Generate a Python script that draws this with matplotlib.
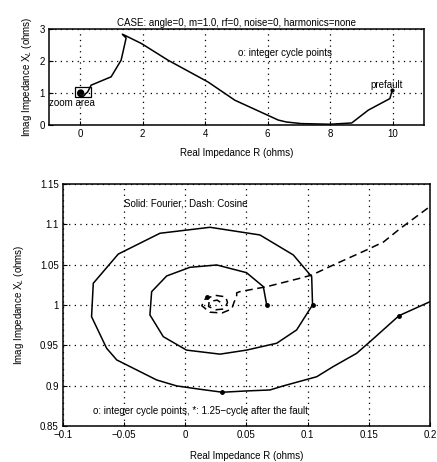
import matplotlib
matplotlib.use("Agg")
import matplotlib.pyplot as plt
from matplotlib.patches import Rectangle

plt.rcParams['font.family'] = ['Liberation Sans', 'DejaVu Sans']
plt.rcParams['font.size'] = 7

# trajectory of apparent impedance (Fourier)
r_big = [9.99, 9.91, 9.22, 8.69, 8.0, 7.08, 6.6, 6.34, 4.95, 4.09, 2.81, 1.96,
         1.42, 1.35, 1.47, 1.31, 0.99, 0.35, 0.24]
x_big = [1.10, 0.83, 0.47, 0.07, 0.03, 0.05, 0.10, 0.16, 0.78, 1.35, 2.03, 2.55,
         2.81, 2.84, 2.72, 2.03, 1.51, 1.25, 1.04]

r_zoom = [0.2, 0.1747, 0.151, 0.140, 0.1208, 0.1074, 0.080, 0.0692, 0.050, 0.0303,
          0.012, -0.007, -0.0234, -0.0397, -0.056, -0.0643, -0.0766, -0.0752,
          -0.0548, -0.0207, 0.0202, 0.061, 0.0883, 0.1033, 0.104, 0.091, 0.0747,
          0.050, 0.0284, 0.001, -0.018, -0.0289, -0.0275, -0.0152, 0.0038, 0.0257,
          0.050, 0.0638, 0.0665]
x_zoom = [1.004, 0.9867, 0.9545, 0.940, 0.9235, 0.911, 0.8996, 0.8946, 0.8934, 0.8918,
          0.8955, 0.8996, 0.907, 0.9194, 0.9318, 0.9463, 0.9854, 1.0268,
          1.063, 1.0888, 1.0962, 1.0867, 1.0619, 1.035, 1.0, 0.969, 0.9525,
          0.944, 0.939, 0.944, 0.9607, 0.9876, 1.0164, 1.0359, 1.0466, 1.0495,
          1.040, 1.0226, 1.0]

# cosine filter trajectory (dashed)
r_cos = [0.25, 0.2, 0.1755, 0.162, 0.148, 0.121, 0.1033, 0.0937, 0.0665, 0.0447,
         0.042, 0.042, 0.040, 0.038, 0.030, 0.020, 0.0135, 0.016, 0.024, 0.033,
         0.0345, 0.032, 0.025, 0.019, 0.0195, 0.026, 0.030]
x_cos = [1.17, 1.122, 1.0945, 1.078, 1.068, 1.0495, 1.037, 1.033, 1.0226, 1.0165,
         1.015, 1.009, 1.004, 0.995, 0.990, 0.991, 0.999, 1.007, 1.012, 1.010,
         1.003, 0.995, 0.994, 0.998, 1.004, 1.006, 1.002]

# marked points (integer cycles / 1.25 cycle)
r_mark = [0.1747, 0.0303, 0.104, 0.0665, 0.0175]
x_mark = [0.9867, 0.8918, 1.0, 1.0, 1.01]

# marks visible on the overview plot
r_mark_top = [9.99, 0.03]
x_mark_top = [1.10, 1.04]

r_all = r_big + r_zoom
x_all = x_big + x_zoom

fig = plt.figure(figsize=(4.37, 4.62), dpi=100)

grid_kw = dict(color='k', linestyle=(0, (1, 3.5)), linewidth=0.9)

# top plot
ax1 = fig.add_axes([0.112, 0.729, 0.858, 0.208])
ax1.plot(r_all, x_all, color='k', linewidth=1.1)
ax1.plot(r_mark_top, x_mark_top, 'o', color='k', markersize=2)
ax1.add_patch(Rectangle((-0.17, 0.88), 0.5, 0.3, fill=False, edgecolor='k', linewidth=0.9))
ax1.set_xlim(-1, 11)
ax1.set_ylim(0, 3)
ax1.set_xticks([0, 2, 4, 6, 8, 10])
ax1.set_yticks([0, 1, 2, 3])
ax1.grid(True, **grid_kw)
ax1.set_title('CASE: angle=0, m=1.0, rf=0, noise=0, harmonics=none', fontsize=7, pad=2)
ax1.set_xlabel('Real Impedance R (ohms)', labelpad=6)
ax1.set_ylabel('Imag Impedance X$_L$ (ohms)')
ax1.text(-0.25, 0.69, 'zoom area', ha='center', va='center')
ax1.text(9.8, 1.25, 'prefault', ha='center', va='center')
ax1.text(6.55, 2.25, 'o: integer cycle points', ha='center', va='center')

# bottom plot (zoom)
ax2 = fig.add_axes([0.144, 0.078, 0.840, 0.524])
ax2.plot(r_all, x_all, color='k', linewidth=1.1)
ax2.plot(r_cos, x_cos, color='k', linewidth=1.1, linestyle=(0, (5, 3)))
ax2.plot(r_mark, x_mark, 'o', color='k', markersize=2.5)
ax2.set_xlim(-0.1, 0.2)
ax2.set_ylim(0.85, 1.15)
ax2.set_xticks([-0.1, -0.05, 0, 0.05, 0.1, 0.15, 0.2])
ax2.set_xticklabels(['\u22120.1', '\u22120.05', '0', '0.05', '0.1', '0.15', '0.2'])
ax2.set_yticks([0.85, 0.9, 0.95, 1.0, 1.05, 1.1, 1.15])
ax2.set_yticklabels(['0.85', '0.9', '0.95', '1', '1.05', '1.1', '1.15'])
ax2.grid(True, **grid_kw)
ax2.set_xlabel('Real Impedance R (ohms)', labelpad=8)
ax2.set_ylabel('Imag Impedance X$_L$ (ohms)', labelpad=10)
ax2.text(-0.05, 1.126, 'Solid: Fourier,  Dash: Cosine', ha='left', va='center')
ax2.text(-0.0755, 0.8686, 'o: integer cycle points, *: 1.25\u2212cycle after the fault',
         ha='left', va='center')

for ax in (ax1, ax2):
    ax.tick_params(direction='in', length=3, width=0.8, pad=3)
    for s in ax.spines.values():
        s.set_linewidth(1.1)

fig.savefig('out.png', dpi=100)
